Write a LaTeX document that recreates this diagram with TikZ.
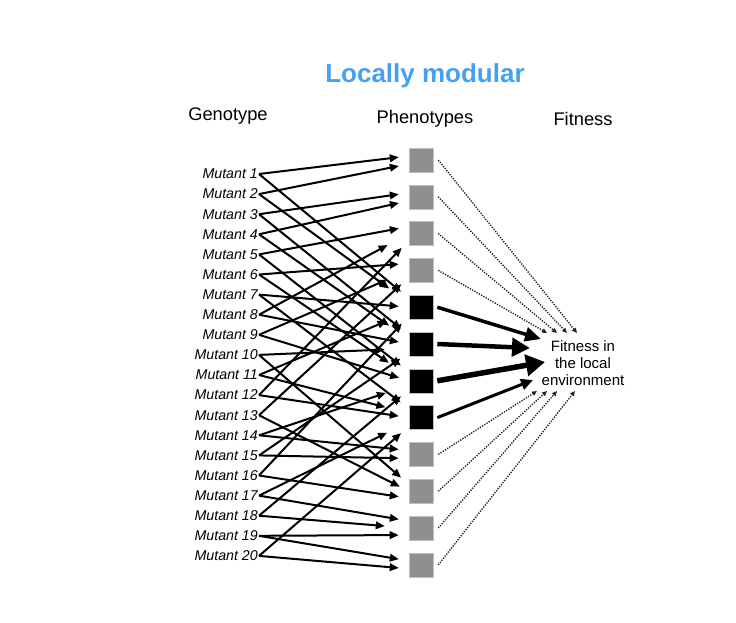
\documentclass[tikz,border=0pt]{standalone}
\usepackage{fontspec}
\setmainfont{Liberation Sans}
\usepackage{tikz}
\usetikzlibrary{positioning,calc}
\usetikzlibrary{arrows.meta}

\definecolor{titleblue}{RGB}{70,160,240}
\definecolor{phgray}{RGB}{143,143,143}

\tikzset{
	mutant/.style={anchor=east,inner sep=1pt,font=\fontsize{14.2}{15}\selectfont\itshape},
	pheno/.style={draw=black!25,line width=0.6pt,minimum size=24pt,inner sep=0pt},
	gmap/.style={-{Triangle[length=9pt,width=7.5pt]},line width=2pt},
	fitmap/.style={-{Triangle[length=5pt,width=4.5pt]},dash pattern=on 1.3pt off 1.3pt,line width=1.4pt,black!85},
	heading/.style={font=\fontsize{18.3}{20}\selectfont}
}

\begin{document}
\begin{tikzpicture}[x=1pt,y=-1pt]
			\useasboundingbox (0,0) rectangle (736,622);
			\node[font=\fontsize{26}{28}\selectfont\bfseries,text=titleblue] (title) at (425,76) {Locally modular};
			\node[heading] (geno) at (228,116) {Genotype};
			\node[heading] (phen) at (425,119) {Phenotypes};
			\node[heading] (fitn) at (583,119) {Fitness};
			\foreach \i in {1,...,20}{
					\node[mutant] (m\i) at (259,{174+(\i-1)*20.1}) {Mutant \i};
				}
			\foreach \i/\c in {1/phgray,2/phgray,3/phgray,4/phgray,5/black,6/black,7/black,8/black,9/phgray,10/phgray,11/phgray,12/phgray}{
					\node[pheno,fill=\c] (p\i) at (421,{160+(\i-1)*36.8}) {};
				}
			\node[align=center,font=\fontsize{15}{17}\selectfont] (fit) at (583,363) {Fitness in\\the local\\environment};
			% genotype -> phenotype map
			\foreach \m/\p/\d/\s in {1/1/4/10,2/1/-4/10,3/2/4/10,4/2/-4/10,
					5/3/7/10,8/3/0/24,12/3/-7/10,6/4/7/10,9/4/0/24,13/4/-7/10,
					1/5/9/10,2/5/4.5/24,7/5/0/10,11/5/-4.5/24,16/5/-9/10,
					3/6/9/10,4/6/4.5/24,8/6/0/10,10/6/-4.5/24,15/6/-9/10,
					5/7/9/10,6/7/4.5/24,9/7/0/10,14/7/-4.5/24,18/7/-9/10,
					7/8/9/10,11/8/4.5/24,12/8/0/10,17/8/-4.5/24,20/8/-9/10,
					14/9/4/10,15/9/-4/10,10/10/7/10,13/10/0/10,16/10/-7/10,
					17/11/7/10,18/11/0/24,19/11/-7/10,19/12/4/10,20/12/-4/10}{
					\draw[gmap,shorten >=\s pt] (m\m.east) -- ([yshift=\d pt]p\p.west);
				}
			% phenotype -> fitness
			\foreach \i/\x in {1/577,2/567,3/557,4/547}{
					\coordinate (ft\i) at (\x,333);
				}
			\foreach \i/\x in {9/537,10/547,11/557,12/575}{
					\coordinate (ft\i) at (\x,391);
				}
			\foreach \i in {1,2,3,4,9,10,11,12}{
					\draw[fitmap] ([xshift=5pt]p\i.east) -- (ft\i);
				}
			\coordinate (fa5) at (541,339);
			\coordinate (fa6) at (530,348);
			\coordinate (fa7) at (545,362);
			\coordinate (fa8) at (533,380);
			\foreach \i/\w/\l/\b in {5/3.5/16/14,6/4.5/18/18,7/5.5/19/21,8/3/12/11}{
					\draw[-{Triangle[length=\l pt,width=\b pt]},line width=\w pt] ([xshift=4pt]p\i.east) -- (fa\i);
				}
		\end{tikzpicture}
\end{document}
